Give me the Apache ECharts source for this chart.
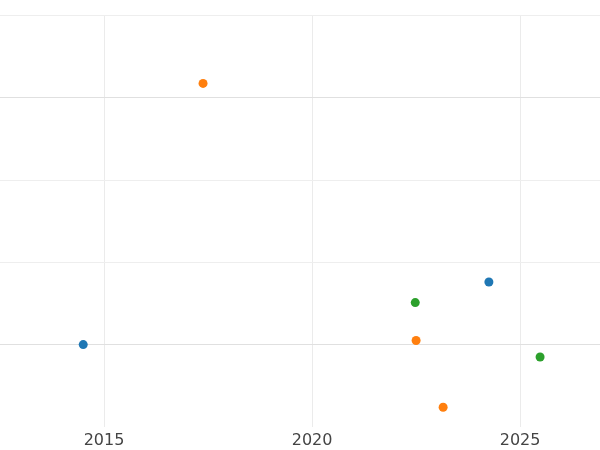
<!DOCTYPE html>
<html><head><meta charset="utf-8">
<script src="https://cdn.jsdelivr.net/npm/echarts@6/dist/echarts.min.js"></script>
<style>html,body{margin:0;padding:0;}#c{width:600px;height:450px;}</style>
</head><body><div id="c"></div>
<script>
const blueX=[2014.5,2024.25], blueY=[1.0,1.76];
const orangeX=[2017.38,2022.5,2023.15], orangeY=[4.17,1.05,0.24];
const greenX=[2022.48,2025.48], greenY=[1.51,0.85];
const xTicks=[2015,2020,2025];
const yLines=[1,2,3,4,5];
function pts(xs,ys){return xs.map((x,i)=>[x,ys[i]]);}
const chart=echarts.init(document.getElementById('c'));
const lines=[].concat(
  xTicks.map(v=>({xAxis:v,lineStyle:{color:'#ebebeb',width:1,type:'solid'}})),
  yLines.map(v=>({yAxis:v,lineStyle:{color:(v===1||v===4)?'#e0e0e0':'#eeeeee',width:1,type:'solid'}}))
);
chart.setOption({
  animation:false,
  grid:{left:0,right:0,top:15,bottom:23},
  xAxis:{type:'value',min:2012.5,max:2026.92,interval:2.5,
    axisLine:{show:false},axisTick:{show:false},
    axisLabel:{color:'#444',fontSize:16,fontFamily:'DejaVu Sans',margin:6,
      showMinLabel:false,showMaxLabel:false,
      formatter:v=>xTicks.includes(v)?String(v):''},
    splitLine:{show:false}},
  yAxis:{type:'value',min:0,max:5,interval:1,
    axisLine:{show:false},axisTick:{show:false},axisLabel:{show:false},
    splitLine:{show:false}},
  series:[
    {type:'scatter',symbolSize:9,itemStyle:{color:'#1f77b4',opacity:1},data:pts(blueX,blueY),
     markLine:{silent:true,symbol:'none',label:{show:false},data:lines,z:0}},
    {type:'scatter',symbolSize:9,itemStyle:{color:'#ff7f0e',opacity:1},data:pts(orangeX,orangeY)},
    {type:'scatter',symbolSize:9,itemStyle:{color:'#2ca02c',opacity:1},data:pts(greenX,greenY)}
  ]
});
</script></body></html>
